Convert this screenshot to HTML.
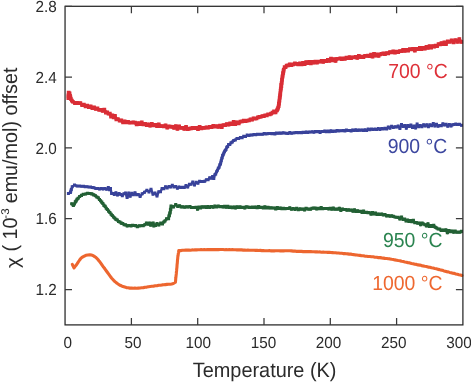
<!DOCTYPE html>
<html><head><meta charset="utf-8"><title>chart</title>
<style>html,body{margin:0;padding:0;background:#fff;width:471px;height:382px;overflow:hidden}svg text{text-rendering:geometricPrecision}</style>
</head><body>
<svg width="471" height="382" viewBox="0 0 471 382" style="position:absolute;left:0;top:0;will-change:transform;font-family:'Liberation Sans',sans-serif">
<g fill="none" stroke-linejoin="round" stroke-linecap="round">
<path d="M68.3 98.1 L68.3 96.4 L68.4 95.1 L68.6 92.5 L69.5 93.3 L70.1 95.8 L70.4 97.5 L70.8 98.9 L71.8 100.5 L72.8 101.7 L74.9 103.0 L76.9 102.9 L78.7 103.1 L80.4 103.0 L82.1 105.3 L83.8 104.6 L85.5 106.4 L87.2 105.6 L88.9 107.1 L90.6 106.3 L92.3 108.3 L94.0 107.4 L95.7 109.0 L97.5 108.5 L99.2 109.9 L100.9 109.8 L102.6 110.9 L104.3 109.6 L105.9 112.6 L107.3 112.4 L108.5 113.8 L109.8 113.6 L111.1 116.5 L112.4 115.4 L113.6 117.3 L114.9 115.9 L116.3 119.5 L117.9 119.1 L119.6 120.6 L121.3 120.4 L123.0 122.3 L124.7 121.4 L126.4 122.4 L128.1 121.7 L129.8 122.7 L131.5 122.5 L133.2 122.3 L134.9 122.6 L136.6 124.5 L138.3 123.2 L140.0 124.2 L141.7 122.5 L143.4 124.4 L145.1 123.9 L146.8 125.0 L148.5 124.2 L150.2 125.8 L151.9 124.0 L153.6 125.3 L155.3 124.7 L157.0 126.2 L158.7 124.4 L160.4 126.0 L162.1 126.0 L163.8 126.5 L165.5 125.4 L167.2 127.7 L168.9 126.4 L170.6 126.7 L172.3 127.0 L174.0 127.9 L175.8 126.2 L177.5 128.9 L179.2 126.4 L180.9 128.0 L182.6 127.7 L184.3 128.9 L186.0 126.9 L187.7 129.1 L189.4 128.6 L191.1 128.4 L192.8 127.7 L194.5 128.2 L196.2 127.8 L197.9 129.1 L199.6 127.0 L201.3 128.5 L203.0 127.7 L204.7 127.9 L206.4 127.3 L208.1 127.8 L209.8 126.7 L211.5 127.3 L213.2 126.0 L214.9 126.6 L216.6 126.2 L218.3 127.0 L220.0 125.7 L221.7 127.1 L223.4 125.0 L225.1 125.1 L226.8 124.0 L228.5 124.7 L230.2 123.4 L231.9 124.0 L233.6 121.9 L235.3 124.3 L237.0 122.2 L238.7 123.4 L240.4 121.5 L242.1 121.3 L243.8 120.7 L245.5 121.2 L247.2 120.5 L248.9 120.4 L250.5 119.3 L252.1 119.7 L253.5 118.2 L255.0 118.6 L256.5 118.5 L258.0 117.5 L259.4 116.9 L260.9 116.8 L262.4 116.0 L263.8 116.0 L265.3 115.4 L266.7 115.4 L268.2 114.5 L269.6 114.3 L271.1 113.7 L272.6 112.7 L274.1 111.5 L275.5 112.5 L277.0 110.3 L277.6 109.3 L278.1 107.7 L278.7 106.0 L278.9 103.7 L279.1 103.6 L279.3 101.3 L279.5 100.5 L279.6 98.2 L279.8 97.2 L280.0 95.5 L280.2 94.4 L280.4 92.8 L280.6 90.8 L280.8 89.3 L281.0 88.2 L281.2 84.9 L281.3 86.1 L281.5 83.5 L281.7 82.9 L281.9 79.8 L282.1 79.6 L282.4 77.1 L282.7 75.9 L283.0 73.4 L283.2 72.7 L283.5 70.8 L283.8 69.7 L284.7 67.2 L285.5 67.2 L286.7 65.6 L288.1 65.3 L289.8 64.3 L291.5 65.0 L293.2 64.4 L294.9 63.5 L296.6 63.9 L298.3 64.4 L299.9 63.4 L301.5 64.4 L303.1 63.0 L304.6 64.0 L306.2 62.1 L307.7 63.0 L309.3 62.0 L310.8 63.3 L312.4 61.8 L313.9 62.8 L315.5 61.6 L317.0 62.6 L318.5 61.5 L320.1 61.8 L321.6 60.8 L323.2 61.9 L324.7 60.8 L326.3 61.1 L327.8 59.9 L329.4 60.9 L330.9 58.6 L332.5 60.3 L334.0 59.1 L335.6 61.0 L337.1 58.8 L338.7 58.7 L340.2 58.3 L341.8 59.2 L343.3 58.4 L344.9 58.8 L346.4 57.5 L348.0 58.2 L349.5 57.0 L351.1 58.2 L352.6 57.2 L354.2 57.4 L355.7 56.9 L357.3 58.0 L358.8 56.0 L360.4 57.2 L361.9 56.6 L363.5 57.1 L365.0 55.8 L366.6 55.9 L368.1 55.7 L369.6 56.1 L371.1 54.6 L372.6 56.7 L374.1 53.8 L375.5 55.7 L377.0 54.3 L378.5 55.9 L380.1 54.3 L381.7 53.8 L383.3 53.4 L385.0 54.1 L386.6 53.0 L388.3 53.3 L389.9 52.0 L391.6 52.5 L393.3 51.4 L394.9 52.6 L396.6 51.7 L398.2 52.1 L399.9 51.1 L401.5 51.1 L403.2 49.8 L404.9 51.0 L406.5 49.8 L408.2 50.7 L409.8 49.2 L411.5 49.4 L413.1 48.8 L414.8 50.7 L416.5 48.9 L418.1 49.2 L419.8 48.0 L421.5 49.0 L423.2 47.8 L424.8 48.7 L426.5 46.8 L428.0 47.9 L429.6 46.1 L431.1 47.5 L432.7 46.0 L434.2 46.6 L435.7 45.6 L437.1 46.3 L438.6 44.1 L440.0 44.4 L441.4 43.0 L442.9 44.2 L444.3 42.3 L446.0 44.2 L447.7 41.5 L449.7 41.8 L451.6 40.4 L453.5 42.3 L455.5 40.1 L457.4 41.8 L459.3 39.1 L461.3 42.0" stroke="#d92d35" stroke-width="3.1"/>
<path d="M66.5 96.2h3.7v3.7h-3.7zM66.5 94.6h3.7v3.7h-3.7zM66.6 93.2h3.7v3.7h-3.7zM66.8 90.7h3.7v3.7h-3.7zM67.7 91.4h3.7v3.7h-3.7zM68.2 94.0h3.7v3.7h-3.7zM68.6 95.6h3.7v3.7h-3.7zM69.0 97.0h3.7v3.7h-3.7zM70.0 98.7h3.7v3.7h-3.7zM71.0 99.9h3.7v3.7h-3.7zM73.1 101.2h3.7v3.7h-3.7zM75.0 101.0h3.7v3.7h-3.7zM76.9 101.3h3.7v3.7h-3.7zM78.5 101.2h3.7v3.7h-3.7zM80.3 103.4h3.7v3.7h-3.7zM82.0 102.7h3.7v3.7h-3.7zM83.7 104.6h3.7v3.7h-3.7zM85.4 103.8h3.7v3.7h-3.7zM87.0 105.2h3.7v3.7h-3.7zM88.8 104.4h3.7v3.7h-3.7zM90.5 106.4h3.7v3.7h-3.7zM92.2 105.5h3.7v3.7h-3.7zM93.9 107.1h3.7v3.7h-3.7zM95.6 106.6h3.7v3.7h-3.7zM97.3 108.0h3.7v3.7h-3.7zM99.0 108.0h3.7v3.7h-3.7zM100.8 109.0h3.7v3.7h-3.7zM102.5 107.8h3.7v3.7h-3.7zM104.0 110.8h3.7v3.7h-3.7zM105.4 110.5h3.7v3.7h-3.7zM106.7 111.9h3.7v3.7h-3.7zM108.0 111.8h3.7v3.7h-3.7zM109.2 114.7h3.7v3.7h-3.7zM110.5 113.6h3.7v3.7h-3.7zM111.8 115.5h3.7v3.7h-3.7zM113.1 114.0h3.7v3.7h-3.7zM114.5 117.6h3.7v3.7h-3.7zM116.0 117.3h3.7v3.7h-3.7zM117.8 118.8h3.7v3.7h-3.7zM119.5 118.6h3.7v3.7h-3.7zM121.2 120.5h3.7v3.7h-3.7zM122.8 119.5h3.7v3.7h-3.7zM124.5 120.6h3.7v3.7h-3.7zM126.2 119.9h3.7v3.7h-3.7zM127.9 120.9h3.7v3.7h-3.7zM129.7 120.7h3.7v3.7h-3.7zM131.4 120.4h3.7v3.7h-3.7zM133.1 120.8h3.7v3.7h-3.7zM134.8 122.6h3.7v3.7h-3.7zM136.4 121.3h3.7v3.7h-3.7zM138.2 122.3h3.7v3.7h-3.7zM139.9 120.6h3.7v3.7h-3.7zM141.6 122.5h3.7v3.7h-3.7zM143.2 122.1h3.7v3.7h-3.7zM144.9 123.2h3.7v3.7h-3.7zM146.7 122.4h3.7v3.7h-3.7zM148.3 123.9h3.7v3.7h-3.7zM150.0 122.1h3.7v3.7h-3.7zM151.8 123.5h3.7v3.7h-3.7zM153.4 122.9h3.7v3.7h-3.7zM155.2 124.3h3.7v3.7h-3.7zM156.9 122.6h3.7v3.7h-3.7zM158.6 124.2h3.7v3.7h-3.7zM160.2 124.2h3.7v3.7h-3.7zM161.9 124.6h3.7v3.7h-3.7zM163.7 123.5h3.7v3.7h-3.7zM165.4 125.8h3.7v3.7h-3.7zM167.1 124.5h3.7v3.7h-3.7zM168.8 124.8h3.7v3.7h-3.7zM170.5 125.1h3.7v3.7h-3.7zM172.2 126.1h3.7v3.7h-3.7zM173.9 124.3h3.7v3.7h-3.7zM175.6 127.0h3.7v3.7h-3.7zM177.3 124.6h3.7v3.7h-3.7zM179.0 126.1h3.7v3.7h-3.7zM180.8 125.9h3.7v3.7h-3.7zM182.4 127.1h3.7v3.7h-3.7zM184.2 125.0h3.7v3.7h-3.7zM185.9 127.2h3.7v3.7h-3.7zM187.6 126.7h3.7v3.7h-3.7zM189.2 126.6h3.7v3.7h-3.7zM190.9 125.9h3.7v3.7h-3.7zM192.7 126.4h3.7v3.7h-3.7zM194.4 125.9h3.7v3.7h-3.7zM196.1 127.2h3.7v3.7h-3.7zM197.8 125.1h3.7v3.7h-3.7zM199.5 126.6h3.7v3.7h-3.7zM201.2 125.9h3.7v3.7h-3.7zM202.9 126.1h3.7v3.7h-3.7zM204.6 125.5h3.7v3.7h-3.7zM206.2 125.9h3.7v3.7h-3.7zM207.9 124.9h3.7v3.7h-3.7zM209.7 125.4h3.7v3.7h-3.7zM211.4 124.1h3.7v3.7h-3.7zM213.1 124.7h3.7v3.7h-3.7zM214.8 124.3h3.7v3.7h-3.7zM216.4 125.1h3.7v3.7h-3.7zM218.2 123.8h3.7v3.7h-3.7zM219.9 125.2h3.7v3.7h-3.7zM221.6 123.2h3.7v3.7h-3.7zM223.2 123.2h3.7v3.7h-3.7zM224.9 122.2h3.7v3.7h-3.7zM226.7 122.8h3.7v3.7h-3.7zM228.3 121.6h3.7v3.7h-3.7zM230.0 122.2h3.7v3.7h-3.7zM231.8 120.1h3.7v3.7h-3.7zM233.4 122.4h3.7v3.7h-3.7zM235.2 120.4h3.7v3.7h-3.7zM236.9 121.6h3.7v3.7h-3.7zM238.6 119.7h3.7v3.7h-3.7zM240.2 119.5h3.7v3.7h-3.7zM241.9 118.8h3.7v3.7h-3.7zM243.7 119.3h3.7v3.7h-3.7zM245.4 118.7h3.7v3.7h-3.7zM247.1 118.5h3.7v3.7h-3.7zM248.7 117.5h3.7v3.7h-3.7zM250.2 117.9h3.7v3.7h-3.7zM251.7 116.4h3.7v3.7h-3.7zM253.2 116.7h3.7v3.7h-3.7zM254.6 116.6h3.7v3.7h-3.7zM256.1 115.6h3.7v3.7h-3.7zM257.6 115.1h3.7v3.7h-3.7zM259.0 114.9h3.7v3.7h-3.7zM260.5 114.2h3.7v3.7h-3.7zM262.0 114.2h3.7v3.7h-3.7zM263.4 113.6h3.7v3.7h-3.7zM264.9 113.5h3.7v3.7h-3.7zM266.3 112.6h3.7v3.7h-3.7zM267.8 112.5h3.7v3.7h-3.7zM269.3 111.8h3.7v3.7h-3.7zM270.7 110.8h3.7v3.7h-3.7zM272.2 109.6h3.7v3.7h-3.7zM273.7 110.6h3.7v3.7h-3.7zM275.1 108.5h3.7v3.7h-3.7zM275.7 107.4h3.7v3.7h-3.7zM276.3 105.8h3.7v3.7h-3.7zM276.8 104.2h3.7v3.7h-3.7zM277.0 101.8h3.7v3.7h-3.7zM277.2 101.8h3.7v3.7h-3.7zM277.4 99.4h3.7v3.7h-3.7zM277.6 98.6h3.7v3.7h-3.7zM277.8 96.3h3.7v3.7h-3.7zM278.0 95.4h3.7v3.7h-3.7zM278.2 93.6h3.7v3.7h-3.7zM278.4 92.5h3.7v3.7h-3.7zM278.5 90.9h3.7v3.7h-3.7zM278.7 88.9h3.7v3.7h-3.7zM278.9 87.5h3.7v3.7h-3.7zM279.1 86.4h3.7v3.7h-3.7zM279.3 83.0h3.7v3.7h-3.7zM279.5 84.2h3.7v3.7h-3.7zM279.7 81.6h3.7v3.7h-3.7zM279.9 81.0h3.7v3.7h-3.7zM280.1 78.0h3.7v3.7h-3.7zM280.2 77.8h3.7v3.7h-3.7zM280.5 75.3h3.7v3.7h-3.7zM280.8 74.0h3.7v3.7h-3.7zM281.1 71.6h3.7v3.7h-3.7zM281.4 70.8h3.7v3.7h-3.7zM281.7 69.0h3.7v3.7h-3.7zM281.9 67.8h3.7v3.7h-3.7zM282.8 65.3h3.7v3.7h-3.7zM283.7 65.3h3.7v3.7h-3.7zM284.8 63.8h3.7v3.7h-3.7zM286.2 63.5h3.7v3.7h-3.7zM287.9 62.4h3.7v3.7h-3.7zM289.6 63.2h3.7v3.7h-3.7zM291.3 62.5h3.7v3.7h-3.7zM293.1 61.6h3.7v3.7h-3.7zM294.7 62.1h3.7v3.7h-3.7zM296.4 62.6h3.7v3.7h-3.7zM298.1 61.5h3.7v3.7h-3.7zM299.7 62.6h3.7v3.7h-3.7zM301.2 61.1h3.7v3.7h-3.7zM302.8 62.2h3.7v3.7h-3.7zM304.3 60.3h3.7v3.7h-3.7zM305.9 61.2h3.7v3.7h-3.7zM307.4 60.1h3.7v3.7h-3.7zM309.0 61.5h3.7v3.7h-3.7zM310.5 59.9h3.7v3.7h-3.7zM312.1 60.9h3.7v3.7h-3.7zM313.6 59.7h3.7v3.7h-3.7zM315.1 60.8h3.7v3.7h-3.7zM316.7 59.7h3.7v3.7h-3.7zM318.2 59.9h3.7v3.7h-3.7zM319.8 59.0h3.7v3.7h-3.7zM321.3 60.0h3.7v3.7h-3.7zM322.9 58.9h3.7v3.7h-3.7zM324.4 59.2h3.7v3.7h-3.7zM326.0 58.0h3.7v3.7h-3.7zM327.5 59.1h3.7v3.7h-3.7zM329.1 56.8h3.7v3.7h-3.7zM330.6 58.5h3.7v3.7h-3.7zM332.2 57.2h3.7v3.7h-3.7zM333.7 59.1h3.7v3.7h-3.7zM335.3 56.9h3.7v3.7h-3.7zM336.8 56.9h3.7v3.7h-3.7zM338.4 56.5h3.7v3.7h-3.7zM339.9 57.4h3.7v3.7h-3.7zM341.5 56.6h3.7v3.7h-3.7zM343.0 57.0h3.7v3.7h-3.7zM344.6 55.7h3.7v3.7h-3.7zM346.1 56.4h3.7v3.7h-3.7zM347.7 55.2h3.7v3.7h-3.7zM349.2 56.4h3.7v3.7h-3.7zM350.8 55.4h3.7v3.7h-3.7zM352.3 55.5h3.7v3.7h-3.7zM353.9 55.1h3.7v3.7h-3.7zM355.4 56.1h3.7v3.7h-3.7zM357.0 54.1h3.7v3.7h-3.7zM358.5 55.3h3.7v3.7h-3.7zM360.1 54.7h3.7v3.7h-3.7zM361.6 55.2h3.7v3.7h-3.7zM363.2 53.9h3.7v3.7h-3.7zM364.7 54.0h3.7v3.7h-3.7zM366.2 53.8h3.7v3.7h-3.7zM367.7 54.2h3.7v3.7h-3.7zM369.2 52.8h3.7v3.7h-3.7zM370.7 54.9h3.7v3.7h-3.7zM372.2 51.9h3.7v3.7h-3.7zM373.7 53.9h3.7v3.7h-3.7zM375.2 52.5h3.7v3.7h-3.7zM376.7 54.1h3.7v3.7h-3.7zM378.2 52.5h3.7v3.7h-3.7zM379.8 52.0h3.7v3.7h-3.7zM381.5 51.5h3.7v3.7h-3.7zM383.1 52.2h3.7v3.7h-3.7zM384.8 51.2h3.7v3.7h-3.7zM386.4 51.5h3.7v3.7h-3.7zM388.1 50.2h3.7v3.7h-3.7zM389.8 50.6h3.7v3.7h-3.7zM391.4 49.6h3.7v3.7h-3.7zM393.1 50.7h3.7v3.7h-3.7zM394.7 49.8h3.7v3.7h-3.7zM396.4 50.2h3.7v3.7h-3.7zM398.0 49.3h3.7v3.7h-3.7zM399.7 49.3h3.7v3.7h-3.7zM401.3 47.9h3.7v3.7h-3.7zM403.0 49.1h3.7v3.7h-3.7zM404.7 47.9h3.7v3.7h-3.7zM406.3 48.8h3.7v3.7h-3.7zM408.0 47.3h3.7v3.7h-3.7zM409.6 47.5h3.7v3.7h-3.7zM411.3 46.9h3.7v3.7h-3.7zM413.0 48.8h3.7v3.7h-3.7zM414.6 47.1h3.7v3.7h-3.7zM416.3 47.3h3.7v3.7h-3.7zM418.0 46.1h3.7v3.7h-3.7zM419.6 47.2h3.7v3.7h-3.7zM421.3 45.9h3.7v3.7h-3.7zM423.0 46.8h3.7v3.7h-3.7zM424.6 44.9h3.7v3.7h-3.7zM426.2 46.0h3.7v3.7h-3.7zM427.7 44.3h3.7v3.7h-3.7zM429.3 45.7h3.7v3.7h-3.7zM430.8 44.2h3.7v3.7h-3.7zM432.3 44.7h3.7v3.7h-3.7zM433.8 43.7h3.7v3.7h-3.7zM435.2 44.4h3.7v3.7h-3.7zM436.7 42.3h3.7v3.7h-3.7zM438.1 42.5h3.7v3.7h-3.7zM439.6 41.2h3.7v3.7h-3.7zM441.1 42.4h3.7v3.7h-3.7zM442.5 40.4h3.7v3.7h-3.7zM444.1 42.3h3.7v3.7h-3.7zM445.9 39.6h3.7v3.7h-3.7zM447.8 40.0h3.7v3.7h-3.7zM449.8 38.6h3.7v3.7h-3.7zM451.7 40.5h3.7v3.7h-3.7zM453.6 38.3h3.7v3.7h-3.7zM455.6 40.0h3.7v3.7h-3.7zM457.5 37.3h3.7v3.7h-3.7zM459.4 40.1h3.7v3.7h-3.7z" fill="#d92d35" stroke="none"/>
<path d="M68.4 193.4 L70.4 192.5 L70.8 191.1 L71.3 189.6 L72.2 186.8 L74.5 185.1 L77.1 186.0 L79.5 186.1 L81.7 186.3 L83.5 186.2 L85.2 186.8 L87.0 186.7 L88.8 187.1 L90.5 187.1 L92.3 187.6 L94.0 187.8 L95.9 188.5 L97.7 188.5 L99.5 189.0 L101.3 188.5 L103.0 189.1 L104.7 188.4 L106.6 189.3 L108.3 187.4 L109.6 189.8 L110.5 188.5 L111.6 193.4 L112.9 193.5 L114.3 194.6 L115.9 192.7 L117.5 195.1 L119.1 193.6 L120.7 194.4 L122.3 195.8 L123.9 193.8 L125.5 193.0 L127.1 197.6 L128.7 193.1 L130.2 196.2 L131.8 193.3 L133.4 194.7 L135.0 192.8 L136.6 194.8 L138.3 194.4 L140.1 196.5 L142.2 193.7 L144.5 192.2 L146.9 190.3 L149.0 191.9 L151.0 189.2 L153.0 194.2 L155.0 192.9 L157.0 196.0 L158.8 191.8 L160.5 191.8 L162.1 188.5 L163.8 188.8 L165.5 186.8 L167.2 187.9 L168.9 186.6 L170.6 187.0 L172.3 185.3 L174.0 186.9 L175.7 186.6 L177.4 188.2 L179.1 187.0 L180.8 187.5 L182.5 187.2 L184.3 187.5 L186.0 185.6 L187.7 187.1 L189.4 184.3 L191.1 184.3 L192.8 182.1 L194.5 185.0 L196.2 182.3 L197.9 183.2 L199.6 181.3 L201.3 181.6 L203.0 181.4 L204.7 181.2 L206.4 179.8 L208.1 179.7 L209.7 177.8 L211.2 178.2 L212.6 176.5 L213.8 178.4 L214.9 174.7 L215.7 174.0 L216.6 171.7 L217.4 170.3 L218.3 168.3 L219.1 167.3 L219.8 164.8 L220.5 163.9 L220.9 161.9 L221.3 160.4 L221.8 158.4 L222.2 157.6 L222.6 155.5 L223.2 154.8 L223.8 153.0 L224.5 151.7 L225.2 150.4 L226.0 149.4 L226.8 147.2 L227.7 146.4 L228.6 144.5 L229.8 144.5 L231.0 142.8 L232.3 141.9 L233.7 140.5 L235.3 139.9 L237.0 138.6 L238.7 138.6 L240.4 137.6 L242.1 137.7 L243.8 136.2 L245.5 136.6 L247.2 135.1 L248.9 135.5 L250.6 135.0 L252.3 135.0 L254.0 134.6 L255.7 134.7 L257.4 134.3 L259.2 134.3 L260.9 134.2 L262.6 134.2 L264.2 133.4 L265.8 133.9 L267.3 133.7 L268.8 133.5 L270.3 133.5 L271.9 133.7 L273.4 133.4 L274.9 133.9 L276.4 133.1 L278.0 133.2 L279.6 133.0 L281.3 133.2 L283.0 132.8 L284.7 133.1 L286.4 133.2 L288.1 133.6 L289.8 132.6 L291.5 133.2 L293.2 132.9 L294.9 132.7 L296.6 132.6 L298.3 132.8 L299.9 132.4 L301.5 132.7 L303.1 132.3 L304.6 132.4 L306.2 131.9 L307.7 132.4 L309.3 132.0 L310.8 132.1 L312.4 131.7 L313.9 132.3 L315.5 131.5 L317.0 131.8 L318.5 131.6 L320.1 132.4 L321.6 131.5 L323.2 131.6 L324.7 131.0 L326.3 131.8 L327.8 131.1 L329.4 131.8 L330.9 130.8 L332.5 131.5 L334.0 131.1 L335.6 131.2 L337.1 130.4 L338.7 130.9 L340.2 130.8 L341.8 130.8 L343.3 130.4 L344.9 130.9 L346.4 130.1 L348.0 130.4 L349.5 130.5 L351.1 130.9 L352.6 130.0 L354.2 130.4 L355.7 129.8 L357.3 130.4 L358.8 130.0 L360.4 130.2 L361.9 129.9 L363.5 130.4 L365.0 129.8 L366.6 130.5 L368.2 129.1 L369.8 129.8 L371.5 129.1 L373.2 129.6 L374.9 129.1 L376.6 129.6 L378.3 128.6 L380.0 129.4 L381.7 128.4 L383.3 128.9 L385.0 128.2 L386.6 128.9 L388.3 127.0 L389.9 128.2 L391.6 126.2 L393.3 127.5 L394.9 126.7 L396.6 127.0 L398.2 126.1 L399.9 128.5 L401.5 124.5 L403.2 126.5 L404.8 125.4 L406.3 128.2 L407.8 125.6 L409.4 126.5 L410.9 125.0 L412.5 127.4 L414.1 126.1 L415.6 128.1 L417.1 124.1 L418.7 126.8 L420.3 125.5 L421.9 126.8 L423.6 124.8 L425.2 126.1 L426.8 124.8 L428.4 126.7 L430.0 124.8 L431.6 125.8 L433.2 123.5 L434.9 126.1 L436.5 124.2 L438.1 126.3 L439.7 125.4 L441.3 125.8 L442.9 123.8 L444.5 125.0 L446.1 124.2 L447.8 126.3 L449.4 124.6 L451.0 126.1 L452.6 124.8 L454.2 124.4 L455.8 124.1 L457.5 124.5 L459.4 124.3 L461.5 125.3" stroke="#38429a" stroke-width="2.4"/>
<path d="M66.9 191.9h3.0v3.0h-3.0zM68.9 191.0h3.0v3.0h-3.0zM69.3 189.6h3.0v3.0h-3.0zM69.8 188.1h3.0v3.0h-3.0zM70.7 185.3h3.0v3.0h-3.0zM73.0 183.6h3.0v3.0h-3.0zM75.6 184.5h3.0v3.0h-3.0zM78.0 184.6h3.0v3.0h-3.0zM80.2 184.8h3.0v3.0h-3.0zM82.0 184.7h3.0v3.0h-3.0zM83.7 185.3h3.0v3.0h-3.0zM85.5 185.2h3.0v3.0h-3.0zM87.3 185.6h3.0v3.0h-3.0zM89.0 185.6h3.0v3.0h-3.0zM90.8 186.1h3.0v3.0h-3.0zM92.5 186.3h3.0v3.0h-3.0zM94.4 187.0h3.0v3.0h-3.0zM96.2 187.0h3.0v3.0h-3.0zM98.0 187.5h3.0v3.0h-3.0zM99.8 187.0h3.0v3.0h-3.0zM101.5 187.6h3.0v3.0h-3.0zM103.2 186.9h3.0v3.0h-3.0zM105.1 187.8h3.0v3.0h-3.0zM106.8 185.9h3.0v3.0h-3.0zM108.1 188.3h3.0v3.0h-3.0zM109.0 187.0h3.0v3.0h-3.0zM110.1 191.9h3.0v3.0h-3.0zM111.4 192.0h3.0v3.0h-3.0zM112.8 193.1h3.0v3.0h-3.0zM114.4 191.2h3.0v3.0h-3.0zM116.0 193.6h3.0v3.0h-3.0zM117.6 192.1h3.0v3.0h-3.0zM119.2 192.9h3.0v3.0h-3.0zM120.8 194.3h3.0v3.0h-3.0zM122.4 192.3h3.0v3.0h-3.0zM124.0 191.5h3.0v3.0h-3.0zM125.6 196.1h3.0v3.0h-3.0zM127.2 191.6h3.0v3.0h-3.0zM128.7 194.7h3.0v3.0h-3.0zM130.3 191.8h3.0v3.0h-3.0zM131.9 193.2h3.0v3.0h-3.0zM133.5 191.3h3.0v3.0h-3.0zM135.1 193.3h3.0v3.0h-3.0zM136.8 192.9h3.0v3.0h-3.0zM138.6 195.0h3.0v3.0h-3.0zM140.7 192.2h3.0v3.0h-3.0zM143.0 190.7h3.0v3.0h-3.0zM145.4 188.8h3.0v3.0h-3.0zM147.5 190.4h3.0v3.0h-3.0zM149.5 187.7h3.0v3.0h-3.0zM151.5 192.7h3.0v3.0h-3.0zM153.5 191.4h3.0v3.0h-3.0zM155.5 194.5h3.0v3.0h-3.0zM157.3 190.3h3.0v3.0h-3.0zM159.0 190.3h3.0v3.0h-3.0zM160.6 187.0h3.0v3.0h-3.0zM162.3 187.3h3.0v3.0h-3.0zM164.0 185.3h3.0v3.0h-3.0zM165.7 186.4h3.0v3.0h-3.0zM167.4 185.1h3.0v3.0h-3.0zM169.1 185.5h3.0v3.0h-3.0zM170.8 183.8h3.0v3.0h-3.0zM172.5 185.4h3.0v3.0h-3.0zM174.2 185.1h3.0v3.0h-3.0zM175.9 186.7h3.0v3.0h-3.0zM177.6 185.5h3.0v3.0h-3.0zM179.3 186.0h3.0v3.0h-3.0zM181.0 185.7h3.0v3.0h-3.0zM182.8 186.0h3.0v3.0h-3.0zM184.5 184.1h3.0v3.0h-3.0zM186.2 185.6h3.0v3.0h-3.0zM187.9 182.8h3.0v3.0h-3.0zM189.6 182.8h3.0v3.0h-3.0zM191.3 180.6h3.0v3.0h-3.0zM193.0 183.5h3.0v3.0h-3.0zM194.7 180.8h3.0v3.0h-3.0zM196.4 181.7h3.0v3.0h-3.0zM198.1 179.8h3.0v3.0h-3.0zM199.8 180.1h3.0v3.0h-3.0zM201.5 179.9h3.0v3.0h-3.0zM203.2 179.7h3.0v3.0h-3.0zM204.9 178.3h3.0v3.0h-3.0zM206.6 178.2h3.0v3.0h-3.0zM208.2 176.3h3.0v3.0h-3.0zM209.7 176.7h3.0v3.0h-3.0zM211.1 175.0h3.0v3.0h-3.0zM212.3 176.9h3.0v3.0h-3.0zM213.4 173.2h3.0v3.0h-3.0zM214.2 172.5h3.0v3.0h-3.0zM215.1 170.2h3.0v3.0h-3.0zM215.9 168.8h3.0v3.0h-3.0zM216.8 166.8h3.0v3.0h-3.0zM217.6 165.8h3.0v3.0h-3.0zM218.3 163.3h3.0v3.0h-3.0zM219.0 162.4h3.0v3.0h-3.0zM219.4 160.4h3.0v3.0h-3.0zM219.8 158.9h3.0v3.0h-3.0zM220.3 156.9h3.0v3.0h-3.0zM220.7 156.1h3.0v3.0h-3.0zM221.1 154.0h3.0v3.0h-3.0zM221.7 153.3h3.0v3.0h-3.0zM222.3 151.5h3.0v3.0h-3.0zM223.0 150.2h3.0v3.0h-3.0zM223.7 148.9h3.0v3.0h-3.0zM224.5 147.9h3.0v3.0h-3.0zM225.3 145.7h3.0v3.0h-3.0zM226.2 144.9h3.0v3.0h-3.0zM227.1 143.0h3.0v3.0h-3.0zM228.3 143.0h3.0v3.0h-3.0zM229.5 141.3h3.0v3.0h-3.0zM230.8 140.4h3.0v3.0h-3.0zM232.2 139.0h3.0v3.0h-3.0zM233.8 138.4h3.0v3.0h-3.0zM235.5 137.1h3.0v3.0h-3.0zM237.2 137.1h3.0v3.0h-3.0zM238.9 136.1h3.0v3.0h-3.0zM240.6 136.2h3.0v3.0h-3.0zM242.3 134.7h3.0v3.0h-3.0zM244.0 135.1h3.0v3.0h-3.0zM245.7 133.6h3.0v3.0h-3.0zM247.4 134.0h3.0v3.0h-3.0zM249.1 133.5h3.0v3.0h-3.0zM250.8 133.5h3.0v3.0h-3.0zM252.5 133.1h3.0v3.0h-3.0zM254.2 133.2h3.0v3.0h-3.0zM255.9 132.8h3.0v3.0h-3.0zM257.7 132.8h3.0v3.0h-3.0zM259.4 132.7h3.0v3.0h-3.0zM261.1 132.7h3.0v3.0h-3.0zM262.7 131.9h3.0v3.0h-3.0zM264.3 132.4h3.0v3.0h-3.0zM265.8 132.2h3.0v3.0h-3.0zM267.3 132.0h3.0v3.0h-3.0zM268.8 132.0h3.0v3.0h-3.0zM270.4 132.2h3.0v3.0h-3.0zM271.9 131.9h3.0v3.0h-3.0zM273.4 132.4h3.0v3.0h-3.0zM274.9 131.6h3.0v3.0h-3.0zM276.5 131.7h3.0v3.0h-3.0zM278.1 131.5h3.0v3.0h-3.0zM279.8 131.7h3.0v3.0h-3.0zM281.5 131.3h3.0v3.0h-3.0zM283.2 131.6h3.0v3.0h-3.0zM284.9 131.7h3.0v3.0h-3.0zM286.6 132.1h3.0v3.0h-3.0zM288.3 131.1h3.0v3.0h-3.0zM290.0 131.7h3.0v3.0h-3.0zM291.7 131.4h3.0v3.0h-3.0zM293.4 131.2h3.0v3.0h-3.0zM295.1 131.1h3.0v3.0h-3.0zM296.8 131.3h3.0v3.0h-3.0zM298.4 130.9h3.0v3.0h-3.0zM300.0 131.2h3.0v3.0h-3.0zM301.6 130.8h3.0v3.0h-3.0zM303.1 130.9h3.0v3.0h-3.0zM304.7 130.4h3.0v3.0h-3.0zM306.2 130.9h3.0v3.0h-3.0zM307.8 130.5h3.0v3.0h-3.0zM309.3 130.6h3.0v3.0h-3.0zM310.9 130.2h3.0v3.0h-3.0zM312.4 130.8h3.0v3.0h-3.0zM314.0 130.0h3.0v3.0h-3.0zM315.5 130.3h3.0v3.0h-3.0zM317.0 130.1h3.0v3.0h-3.0zM318.6 130.9h3.0v3.0h-3.0zM320.1 130.0h3.0v3.0h-3.0zM321.7 130.1h3.0v3.0h-3.0zM323.2 129.5h3.0v3.0h-3.0zM324.8 130.3h3.0v3.0h-3.0zM326.3 129.6h3.0v3.0h-3.0zM327.9 130.3h3.0v3.0h-3.0zM329.4 129.3h3.0v3.0h-3.0zM331.0 130.0h3.0v3.0h-3.0zM332.5 129.6h3.0v3.0h-3.0zM334.1 129.7h3.0v3.0h-3.0zM335.6 128.9h3.0v3.0h-3.0zM337.2 129.4h3.0v3.0h-3.0zM338.7 129.3h3.0v3.0h-3.0zM340.3 129.3h3.0v3.0h-3.0zM341.8 128.9h3.0v3.0h-3.0zM343.4 129.4h3.0v3.0h-3.0zM344.9 128.6h3.0v3.0h-3.0zM346.5 128.9h3.0v3.0h-3.0zM348.0 129.0h3.0v3.0h-3.0zM349.6 129.4h3.0v3.0h-3.0zM351.1 128.5h3.0v3.0h-3.0zM352.7 128.9h3.0v3.0h-3.0zM354.2 128.3h3.0v3.0h-3.0zM355.8 128.9h3.0v3.0h-3.0zM357.3 128.5h3.0v3.0h-3.0zM358.9 128.7h3.0v3.0h-3.0zM360.4 128.4h3.0v3.0h-3.0zM362.0 128.9h3.0v3.0h-3.0zM363.5 128.3h3.0v3.0h-3.0zM365.1 129.0h3.0v3.0h-3.0zM366.7 127.6h3.0v3.0h-3.0zM368.3 128.3h3.0v3.0h-3.0zM370.0 127.6h3.0v3.0h-3.0zM371.7 128.1h3.0v3.0h-3.0zM373.4 127.6h3.0v3.0h-3.0zM375.1 128.1h3.0v3.0h-3.0zM376.8 127.1h3.0v3.0h-3.0zM378.5 127.9h3.0v3.0h-3.0zM380.2 126.9h3.0v3.0h-3.0zM381.8 127.4h3.0v3.0h-3.0zM383.5 126.7h3.0v3.0h-3.0zM385.1 127.4h3.0v3.0h-3.0zM386.8 125.5h3.0v3.0h-3.0zM388.4 126.7h3.0v3.0h-3.0zM390.1 124.7h3.0v3.0h-3.0zM391.8 126.0h3.0v3.0h-3.0zM393.4 125.2h3.0v3.0h-3.0zM395.1 125.5h3.0v3.0h-3.0zM396.7 124.6h3.0v3.0h-3.0zM398.4 127.0h3.0v3.0h-3.0zM400.0 123.0h3.0v3.0h-3.0zM401.7 125.0h3.0v3.0h-3.0zM403.2 123.9h3.0v3.0h-3.0zM404.8 126.7h3.0v3.0h-3.0zM406.3 124.1h3.0v3.0h-3.0zM407.9 125.0h3.0v3.0h-3.0zM409.4 123.5h3.0v3.0h-3.0zM411.0 125.9h3.0v3.0h-3.0zM412.6 124.6h3.0v3.0h-3.0zM414.1 126.6h3.0v3.0h-3.0zM415.6 122.6h3.0v3.0h-3.0zM417.2 125.3h3.0v3.0h-3.0zM418.8 124.0h3.0v3.0h-3.0zM420.4 125.3h3.0v3.0h-3.0zM422.1 123.3h3.0v3.0h-3.0zM423.7 124.6h3.0v3.0h-3.0zM425.3 123.3h3.0v3.0h-3.0zM426.9 125.2h3.0v3.0h-3.0zM428.5 123.3h3.0v3.0h-3.0zM430.1 124.3h3.0v3.0h-3.0zM431.8 122.0h3.0v3.0h-3.0zM433.4 124.6h3.0v3.0h-3.0zM435.0 122.7h3.0v3.0h-3.0zM436.6 124.8h3.0v3.0h-3.0zM438.2 123.9h3.0v3.0h-3.0zM439.8 124.3h3.0v3.0h-3.0zM441.4 122.3h3.0v3.0h-3.0zM443.0 123.5h3.0v3.0h-3.0zM444.6 122.7h3.0v3.0h-3.0zM446.2 124.8h3.0v3.0h-3.0zM447.9 123.1h3.0v3.0h-3.0zM449.5 124.6h3.0v3.0h-3.0zM451.1 123.3h3.0v3.0h-3.0zM452.7 122.9h3.0v3.0h-3.0zM454.3 122.6h3.0v3.0h-3.0zM456.0 123.0h3.0v3.0h-3.0zM457.9 122.8h3.0v3.0h-3.0zM460.0 123.8h3.0v3.0h-3.0z" fill="#38429a" stroke="none"/>
<path d="M71.7 203.8 L73.3 205.6 L74.3 204.0 L75.3 201.9 L76.2 200.9 L77.0 199.3 L78.2 198.3 L79.6 196.5 L81.4 195.4 L83.4 194.2 L85.5 194.0 L87.6 193.2 L89.8 193.6 L91.9 193.9 L93.8 194.8 L95.4 195.7 L96.9 197.0 L98.2 197.8 L99.4 199.5 L100.6 200.8 L101.7 202.2 L102.8 203.5 L104.0 205.3 L105.1 206.4 L106.2 208.2 L107.4 209.6 L108.6 211.1 L109.9 212.4 L111.1 214.2 L112.3 215.5 L113.4 216.9 L114.7 218.0 L116.0 219.3 L117.2 220.0 L118.5 221.6 L119.9 222.0 L121.3 223.2 L122.7 223.6 L124.1 224.8 L125.6 224.8 L127.2 225.9 L129.1 225.4 L131.0 225.8 L132.7 225.4 L134.2 225.5 L135.7 225.6 L137.4 226.6 L139.3 225.8 L141.3 225.8 L143.1 225.6 L144.8 224.8 L146.5 223.0 L148.1 224.2 L149.5 223.1 L150.7 225.1 L151.7 223.8 L152.4 223.2 L153.2 223.0 L153.8 226.0 L154.6 225.1 L155.6 225.4 L157.0 223.7 L158.8 225.0 L160.8 223.2 L162.5 223.8 L163.8 222.0 L165.0 221.0 L166.5 218.8 L168.6 218.8 L169.0 216.0 L169.4 215.4 L169.8 213.4 L170.1 212.5 L170.4 209.7 L170.8 209.3 L171.1 206.1 L173.5 206.9 L175.8 204.6 L177.8 206.4 L179.6 205.8 L181.3 206.9 L183.0 206.8 L184.7 207.2 L186.5 206.7 L188.2 207.1 L189.9 206.5 L191.5 207.5 L193.0 207.4 L194.5 207.6 L196.0 207.2 L197.5 209.1 L199.0 207.2 L200.5 207.8 L202.1 206.7 L203.6 207.1 L205.1 206.8 L206.6 207.3 L208.2 206.7 L209.8 207.4 L211.5 206.6 L213.2 207.3 L214.9 206.1 L216.6 206.8 L218.3 206.1 L219.9 206.8 L221.5 206.4 L223.1 207.1 L224.6 206.3 L226.2 207.3 L227.7 206.3 L229.3 207.5 L230.8 207.1 L232.4 207.6 L233.9 206.9 L235.5 207.9 L237.0 206.8 L238.5 207.6 L240.1 206.9 L241.6 207.4 L243.2 207.4 L244.7 207.9 L246.3 206.9 L247.8 207.1 L249.4 207.3 L250.9 207.5 L252.5 207.2 L254.0 207.3 L255.6 207.0 L257.1 207.6 L258.7 206.5 L260.2 207.3 L261.8 207.3 L263.3 207.8 L264.9 206.9 L266.4 207.8 L268.0 207.3 L269.5 208.0 L271.1 207.7 L272.6 208.0 L274.2 208.0 L275.7 208.8 L277.3 207.6 L278.8 208.4 L280.4 208.0 L281.9 208.8 L283.5 208.4 L285.0 208.6 L286.6 208.6 L288.2 208.5 L289.8 207.9 L291.5 209.2 L293.2 208.4 L294.9 209.4 L296.6 208.3 L298.3 209.7 L299.9 208.9 L301.5 209.3 L303.0 209.0 L304.5 209.8 L306.0 208.3 L307.6 209.0 L309.1 209.1 L310.6 209.1 L312.1 208.3 L313.6 208.1 L315.1 208.0 L316.6 209.0 L318.1 208.2 L319.6 208.7 L321.2 207.4 L322.7 208.7 L324.2 208.5 L325.7 208.6 L327.2 208.5 L328.7 208.9 L330.2 208.2 L331.8 209.1 L333.3 208.0 L334.8 209.2 L336.3 209.0 L337.9 209.2 L339.4 208.2 L340.9 210.3 L342.4 209.1 L343.9 209.5 L345.4 209.6 L346.9 210.3 L348.5 209.7 L350.0 210.2 L351.5 210.1 L353.0 211.3 L354.5 209.9 L356.0 211.4 L357.5 210.8 L359.0 211.5 L360.5 211.3 L362.1 212.3 L363.6 211.2 L365.1 212.5 L366.6 212.3 L368.1 212.7 L369.6 212.8 L371.1 214.1 L372.6 212.6 L374.1 213.9 L375.5 213.1 L377.0 214.5 L378.5 214.0 L380.1 214.5 L381.7 214.0 L383.3 214.9 L385.0 214.5 L386.6 216.0 L388.3 215.6 L389.9 216.3 L391.6 215.8 L393.3 216.4 L394.9 217.0 L396.6 217.3 L398.2 217.3 L399.9 219.0 L401.5 217.2 L403.1 219.5 L404.7 219.2 L406.1 220.9 L407.6 220.0 L409.0 221.5 L410.4 220.4 L411.9 221.7 L413.3 220.3 L414.8 222.6 L416.3 222.6 L417.7 223.2 L419.2 223.0 L420.7 224.8 L422.1 223.1 L423.6 224.0 L425.0 224.7 L426.5 225.9 L427.9 223.7 L429.4 226.5 L430.8 225.7 L432.3 226.5 L433.8 225.3 L435.2 227.3 L436.7 228.0 L438.1 229.0 L439.6 229.0 L441.2 230.5 L442.7 230.1 L444.3 230.4 L445.8 229.9 L447.4 232.8 L448.9 230.5 L450.5 231.7 L452.0 231.0 L453.6 232.3 L455.2 231.2 L456.8 232.3 L458.3 232.2 L459.9 232.2 L461.5 231.3" stroke="#226034" stroke-width="2.6"/>
<path d="M70.2 202.2h3.1v3.1h-3.1zM71.8 204.0h3.1v3.1h-3.1zM72.8 202.4h3.1v3.1h-3.1zM73.8 200.3h3.1v3.1h-3.1zM74.6 199.4h3.1v3.1h-3.1zM75.5 197.7h3.1v3.1h-3.1zM76.6 196.7h3.1v3.1h-3.1zM78.1 195.0h3.1v3.1h-3.1zM79.9 193.8h3.1v3.1h-3.1zM81.8 192.7h3.1v3.1h-3.1zM84.0 192.5h3.1v3.1h-3.1zM86.1 191.7h3.1v3.1h-3.1zM88.2 192.0h3.1v3.1h-3.1zM90.3 192.3h3.1v3.1h-3.1zM92.2 193.3h3.1v3.1h-3.1zM93.9 194.2h3.1v3.1h-3.1zM95.3 195.4h3.1v3.1h-3.1zM96.7 196.2h3.1v3.1h-3.1zM97.9 197.9h3.1v3.1h-3.1zM99.0 199.2h3.1v3.1h-3.1zM100.2 200.6h3.1v3.1h-3.1zM101.3 201.9h3.1v3.1h-3.1zM102.4 203.8h3.1v3.1h-3.1zM103.6 204.8h3.1v3.1h-3.1zM104.7 206.7h3.1v3.1h-3.1zM105.8 208.0h3.1v3.1h-3.1zM107.1 209.6h3.1v3.1h-3.1zM108.3 210.9h3.1v3.1h-3.1zM109.6 212.7h3.1v3.1h-3.1zM110.7 214.0h3.1v3.1h-3.1zM111.9 215.4h3.1v3.1h-3.1zM113.1 216.5h3.1v3.1h-3.1zM114.4 217.8h3.1v3.1h-3.1zM115.7 218.4h3.1v3.1h-3.1zM117.0 220.0h3.1v3.1h-3.1zM118.3 220.4h3.1v3.1h-3.1zM119.8 221.6h3.1v3.1h-3.1zM121.2 222.0h3.1v3.1h-3.1zM122.6 223.2h3.1v3.1h-3.1zM124.0 223.3h3.1v3.1h-3.1zM125.7 224.3h3.1v3.1h-3.1zM127.5 223.9h3.1v3.1h-3.1zM129.4 224.3h3.1v3.1h-3.1zM131.1 223.8h3.1v3.1h-3.1zM132.6 224.0h3.1v3.1h-3.1zM134.1 224.1h3.1v3.1h-3.1zM135.8 225.1h3.1v3.1h-3.1zM137.7 224.3h3.1v3.1h-3.1zM139.7 224.2h3.1v3.1h-3.1zM141.6 224.1h3.1v3.1h-3.1zM143.2 223.2h3.1v3.1h-3.1zM144.9 221.5h3.1v3.1h-3.1zM146.5 222.7h3.1v3.1h-3.1zM147.9 221.5h3.1v3.1h-3.1zM149.1 223.6h3.1v3.1h-3.1zM150.1 222.3h3.1v3.1h-3.1zM150.9 221.7h3.1v3.1h-3.1zM151.6 221.4h3.1v3.1h-3.1zM152.3 224.4h3.1v3.1h-3.1zM153.1 223.5h3.1v3.1h-3.1zM154.0 223.9h3.1v3.1h-3.1zM155.5 222.1h3.1v3.1h-3.1zM157.3 223.4h3.1v3.1h-3.1zM159.2 221.6h3.1v3.1h-3.1zM160.9 222.3h3.1v3.1h-3.1zM162.3 220.4h3.1v3.1h-3.1zM163.4 219.5h3.1v3.1h-3.1zM165.0 217.3h3.1v3.1h-3.1zM167.0 217.2h3.1v3.1h-3.1zM167.4 214.4h3.1v3.1h-3.1zM167.8 213.8h3.1v3.1h-3.1zM168.2 211.8h3.1v3.1h-3.1zM168.6 211.0h3.1v3.1h-3.1zM168.9 208.2h3.1v3.1h-3.1zM169.2 207.8h3.1v3.1h-3.1zM169.5 204.6h3.1v3.1h-3.1zM172.0 205.3h3.1v3.1h-3.1zM174.2 203.0h3.1v3.1h-3.1zM176.2 204.8h3.1v3.1h-3.1zM178.0 204.2h3.1v3.1h-3.1zM179.7 205.3h3.1v3.1h-3.1zM181.4 205.3h3.1v3.1h-3.1zM183.2 205.7h3.1v3.1h-3.1zM184.9 205.2h3.1v3.1h-3.1zM186.7 205.5h3.1v3.1h-3.1zM188.4 205.0h3.1v3.1h-3.1zM189.9 205.9h3.1v3.1h-3.1zM191.4 205.9h3.1v3.1h-3.1zM193.0 206.0h3.1v3.1h-3.1zM194.5 205.7h3.1v3.1h-3.1zM196.0 207.6h3.1v3.1h-3.1zM197.5 205.6h3.1v3.1h-3.1zM199.0 206.3h3.1v3.1h-3.1zM200.5 205.2h3.1v3.1h-3.1zM202.0 205.6h3.1v3.1h-3.1zM203.5 205.3h3.1v3.1h-3.1zM205.0 205.8h3.1v3.1h-3.1zM206.6 205.1h3.1v3.1h-3.1zM208.2 205.9h3.1v3.1h-3.1zM209.9 205.0h3.1v3.1h-3.1zM211.7 205.7h3.1v3.1h-3.1zM213.3 204.5h3.1v3.1h-3.1zM215.0 205.3h3.1v3.1h-3.1zM216.7 204.5h3.1v3.1h-3.1zM218.4 205.2h3.1v3.1h-3.1zM220.0 204.9h3.1v3.1h-3.1zM221.5 205.5h3.1v3.1h-3.1zM223.1 204.8h3.1v3.1h-3.1zM224.6 205.7h3.1v3.1h-3.1zM226.2 204.7h3.1v3.1h-3.1zM227.7 206.0h3.1v3.1h-3.1zM229.3 205.5h3.1v3.1h-3.1zM230.8 206.1h3.1v3.1h-3.1zM232.4 205.4h3.1v3.1h-3.1zM233.9 206.4h3.1v3.1h-3.1zM235.4 205.2h3.1v3.1h-3.1zM237.0 206.0h3.1v3.1h-3.1zM238.5 205.3h3.1v3.1h-3.1zM240.1 205.8h3.1v3.1h-3.1zM241.6 205.8h3.1v3.1h-3.1zM243.2 206.3h3.1v3.1h-3.1zM244.7 205.3h3.1v3.1h-3.1zM246.3 205.5h3.1v3.1h-3.1zM247.8 205.8h3.1v3.1h-3.1zM249.4 206.0h3.1v3.1h-3.1zM250.9 205.6h3.1v3.1h-3.1zM252.5 205.8h3.1v3.1h-3.1zM254.0 205.5h3.1v3.1h-3.1zM255.6 206.1h3.1v3.1h-3.1zM257.1 205.0h3.1v3.1h-3.1zM258.7 205.8h3.1v3.1h-3.1zM260.2 205.7h3.1v3.1h-3.1zM261.8 206.3h3.1v3.1h-3.1zM263.3 205.3h3.1v3.1h-3.1zM264.9 206.3h3.1v3.1h-3.1zM266.4 205.8h3.1v3.1h-3.1zM268.0 206.5h3.1v3.1h-3.1zM269.5 206.2h3.1v3.1h-3.1zM271.1 206.5h3.1v3.1h-3.1zM272.6 206.4h3.1v3.1h-3.1zM274.2 207.3h3.1v3.1h-3.1zM275.7 206.1h3.1v3.1h-3.1zM277.3 206.9h3.1v3.1h-3.1zM278.8 206.4h3.1v3.1h-3.1zM280.4 207.2h3.1v3.1h-3.1zM281.9 206.8h3.1v3.1h-3.1zM283.5 207.1h3.1v3.1h-3.1zM285.0 207.0h3.1v3.1h-3.1zM286.6 206.9h3.1v3.1h-3.1zM288.2 206.3h3.1v3.1h-3.1zM289.9 207.7h3.1v3.1h-3.1zM291.6 206.9h3.1v3.1h-3.1zM293.4 207.8h3.1v3.1h-3.1zM295.1 206.7h3.1v3.1h-3.1zM296.8 208.2h3.1v3.1h-3.1zM298.4 207.3h3.1v3.1h-3.1zM300.0 207.7h3.1v3.1h-3.1zM301.5 207.4h3.1v3.1h-3.1zM303.0 208.3h3.1v3.1h-3.1zM304.5 206.7h3.1v3.1h-3.1zM306.0 207.5h3.1v3.1h-3.1zM307.5 207.6h3.1v3.1h-3.1zM309.0 207.6h3.1v3.1h-3.1zM310.5 206.7h3.1v3.1h-3.1zM312.1 206.6h3.1v3.1h-3.1zM313.6 206.5h3.1v3.1h-3.1zM315.1 207.4h3.1v3.1h-3.1zM316.6 206.7h3.1v3.1h-3.1zM318.1 207.2h3.1v3.1h-3.1zM319.6 205.9h3.1v3.1h-3.1zM321.1 207.1h3.1v3.1h-3.1zM322.6 206.9h3.1v3.1h-3.1zM324.1 207.0h3.1v3.1h-3.1zM325.7 206.9h3.1v3.1h-3.1zM327.2 207.4h3.1v3.1h-3.1zM328.7 206.7h3.1v3.1h-3.1zM330.2 207.6h3.1v3.1h-3.1zM331.7 206.5h3.1v3.1h-3.1zM333.3 207.7h3.1v3.1h-3.1zM334.8 207.4h3.1v3.1h-3.1zM336.3 207.7h3.1v3.1h-3.1zM337.8 206.7h3.1v3.1h-3.1zM339.3 208.8h3.1v3.1h-3.1zM340.9 207.5h3.1v3.1h-3.1zM342.4 208.0h3.1v3.1h-3.1zM343.9 208.0h3.1v3.1h-3.1zM345.4 208.7h3.1v3.1h-3.1zM346.9 208.2h3.1v3.1h-3.1zM348.4 208.6h3.1v3.1h-3.1zM349.9 208.5h3.1v3.1h-3.1zM351.4 209.7h3.1v3.1h-3.1zM352.9 208.3h3.1v3.1h-3.1zM354.5 209.8h3.1v3.1h-3.1zM356.0 209.2h3.1v3.1h-3.1zM357.5 210.0h3.1v3.1h-3.1zM359.0 209.7h3.1v3.1h-3.1zM360.5 210.8h3.1v3.1h-3.1zM362.0 209.6h3.1v3.1h-3.1zM363.5 211.0h3.1v3.1h-3.1zM365.0 210.7h3.1v3.1h-3.1zM366.5 211.1h3.1v3.1h-3.1zM368.0 211.2h3.1v3.1h-3.1zM369.5 212.6h3.1v3.1h-3.1zM371.0 211.0h3.1v3.1h-3.1zM372.5 212.4h3.1v3.1h-3.1zM374.0 211.5h3.1v3.1h-3.1zM375.5 212.9h3.1v3.1h-3.1zM377.0 212.4h3.1v3.1h-3.1zM378.5 213.0h3.1v3.1h-3.1zM380.1 212.4h3.1v3.1h-3.1zM381.8 213.4h3.1v3.1h-3.1zM383.4 213.0h3.1v3.1h-3.1zM385.1 214.4h3.1v3.1h-3.1zM386.7 214.0h3.1v3.1h-3.1zM388.4 214.7h3.1v3.1h-3.1zM390.1 214.2h3.1v3.1h-3.1zM391.7 214.8h3.1v3.1h-3.1zM393.4 215.5h3.1v3.1h-3.1zM395.0 215.7h3.1v3.1h-3.1zM396.7 215.8h3.1v3.1h-3.1zM398.3 217.5h3.1v3.1h-3.1zM400.0 215.6h3.1v3.1h-3.1zM401.6 218.0h3.1v3.1h-3.1zM403.1 217.6h3.1v3.1h-3.1zM404.5 219.3h3.1v3.1h-3.1zM406.0 218.5h3.1v3.1h-3.1zM407.4 219.9h3.1v3.1h-3.1zM408.9 218.9h3.1v3.1h-3.1zM410.4 220.1h3.1v3.1h-3.1zM411.8 218.8h3.1v3.1h-3.1zM413.3 221.1h3.1v3.1h-3.1zM414.7 221.0h3.1v3.1h-3.1zM416.2 221.6h3.1v3.1h-3.1zM417.6 221.5h3.1v3.1h-3.1zM419.1 223.2h3.1v3.1h-3.1zM420.6 221.6h3.1v3.1h-3.1zM422.0 222.4h3.1v3.1h-3.1zM423.5 223.2h3.1v3.1h-3.1zM424.9 224.3h3.1v3.1h-3.1zM426.4 222.2h3.1v3.1h-3.1zM427.9 225.0h3.1v3.1h-3.1zM429.3 224.1h3.1v3.1h-3.1zM430.8 225.0h3.1v3.1h-3.1zM432.2 223.7h3.1v3.1h-3.1zM433.7 225.7h3.1v3.1h-3.1zM435.1 226.4h3.1v3.1h-3.1zM436.6 227.5h3.1v3.1h-3.1zM438.1 227.5h3.1v3.1h-3.1zM439.6 228.9h3.1v3.1h-3.1zM441.2 228.6h3.1v3.1h-3.1zM442.7 228.9h3.1v3.1h-3.1zM444.3 228.3h3.1v3.1h-3.1zM445.8 231.2h3.1v3.1h-3.1zM447.4 229.0h3.1v3.1h-3.1zM448.9 230.1h3.1v3.1h-3.1zM450.5 229.4h3.1v3.1h-3.1zM452.1 230.7h3.1v3.1h-3.1zM453.6 229.6h3.1v3.1h-3.1zM455.2 230.7h3.1v3.1h-3.1zM456.8 230.6h3.1v3.1h-3.1zM458.4 230.7h3.1v3.1h-3.1zM459.9 229.8h3.1v3.1h-3.1z" fill="#226034" stroke="none"/>
<path d="M72.3 264.4 L73.2 266.2 L74.1 267.9 L75.7 265.7 L76.7 264.5 L77.7 262.9 L78.6 261.5 L79.6 260.0 L80.6 258.7 L82.0 257.4 L83.8 256.4 L85.9 255.3 L87.9 255.0 L89.8 254.7 L91.4 255.1 L92.9 255.5 L94.3 256.4 L95.6 257.2 L96.8 258.3 L97.9 259.5 L98.9 260.8 L100.0 262.1 L101.1 263.6 L102.1 265.1 L103.2 266.7 L104.3 268.0 L105.4 269.6 L106.4 271.0 L107.5 272.5 L108.5 273.9 L109.6 275.4 L110.6 276.8 L111.7 278.2 L112.9 279.5 L114.2 281.0 L115.6 282.1 L117.0 283.3 L118.4 284.2 L119.9 285.2 L121.4 285.8 L123.0 286.6 L124.7 287.1 L126.4 287.6 L128.1 287.8 L129.8 288.1 L131.5 288.0 L133.2 288.3 L134.9 288.1 L136.6 288.2 L138.3 288.1 L140.0 288.0 L141.7 287.8 L143.4 287.6 L145.1 287.3 L146.8 287.1 L148.5 286.7 L150.2 286.5 L151.9 286.3 L153.6 286.1 L155.3 285.8 L157.0 285.7 L158.7 285.3 L160.4 285.3 L162.1 284.9 L163.8 284.8 L165.4 284.6 L167.0 284.4 L168.6 284.3 L170.1 284.3 L171.7 283.9 L173.4 283.4 L175.4 282.2 L175.6 280.6 L175.7 278.8 L175.9 277.3 L176.1 275.4 L176.3 273.9 L176.4 272.1 L176.6 270.7 L176.7 269.0 L176.9 267.6 L177.0 266.1 L177.1 264.5 L177.3 263.0 L177.4 261.7 L177.5 259.9 L177.7 258.6 L177.8 257.0 L178.1 255.4 L178.3 253.8 L178.6 252.2 L178.8 250.5 L180.6 250.6 L182.5 250.3 L184.2 250.3 L185.8 250.1 L187.4 250.1 L188.9 250.0 L190.4 250.2 L192.0 249.9 L193.5 250.0 L195.0 249.8 L196.5 249.9 L198.1 249.7 L199.6 249.8 L201.2 249.6 L202.7 249.7 L204.3 249.6 L205.9 249.7 L207.4 249.5 L209.0 249.6 L210.6 249.6 L212.2 249.6 L213.7 249.5 L215.3 249.6 L216.9 249.5 L218.4 249.6 L220.0 249.5 L221.5 249.5 L223.1 249.5 L224.6 249.7 L226.2 249.6 L227.7 249.7 L229.3 249.6 L230.8 249.8 L232.4 249.6 L233.9 249.7 L235.5 249.7 L237.0 249.9 L238.5 249.8 L240.1 249.9 L241.6 249.9 L243.2 250.1 L244.7 250.0 L246.3 250.2 L247.8 250.1 L249.4 250.3 L250.9 250.2 L252.5 250.3 L254.0 250.3 L255.6 250.4 L257.1 250.3 L258.7 250.5 L260.2 250.4 L261.8 250.6 L263.3 250.6 L264.9 250.7 L266.4 250.7 L268.0 250.8 L269.5 250.6 L271.1 250.9 L272.6 250.7 L274.2 250.9 L275.7 250.8 L277.3 250.8 L278.8 250.7 L280.4 250.9 L281.9 250.7 L283.5 250.9 L285.0 250.7 L286.6 250.8 L288.2 250.8 L289.8 250.8 L291.5 250.9 L293.2 251.1 L294.9 251.0 L296.6 251.4 L298.3 251.2 L299.9 251.4 L301.5 251.4 L303.1 251.6 L304.6 251.5 L306.2 251.6 L307.7 251.6 L309.3 251.6 L310.8 251.6 L312.4 251.8 L313.9 251.8 L315.5 251.9 L317.0 251.8 L318.5 252.0 L320.1 251.9 L321.6 252.2 L323.2 252.1 L324.7 252.2 L326.3 252.2 L327.8 252.4 L329.4 252.3 L330.9 252.5 L332.5 252.6 L334.0 252.7 L335.5 252.7 L337.0 253.0 L338.6 253.0 L340.1 253.2 L341.6 253.3 L343.1 253.6 L344.7 253.6 L346.2 253.8 L347.7 253.9 L349.2 254.1 L350.7 254.1 L352.2 254.5 L353.7 254.6 L355.3 254.9 L356.8 255.0 L358.3 255.2 L359.8 255.4 L361.4 255.6 L363.0 255.7 L364.7 256.1 L366.4 256.2 L368.1 256.5 L369.8 256.5 L371.5 256.8 L373.2 256.8 L374.9 257.2 L376.6 257.3 L378.3 257.6 L380.0 257.6 L381.7 257.9 L383.3 258.1 L385.0 258.4 L386.6 258.5 L388.3 258.8 L389.9 258.9 L391.6 259.3 L393.3 259.5 L394.9 259.9 L396.6 260.2 L398.2 260.5 L399.9 260.7 L401.5 261.3 L403.2 261.5 L404.9 261.9 L406.5 262.2 L408.2 262.8 L409.8 262.9 L411.5 263.4 L413.1 263.7 L414.8 264.2 L416.5 264.4 L418.1 264.9 L419.8 265.1 L421.5 265.6 L423.2 265.9 L424.8 266.3 L426.5 266.5 L428.2 267.1 L429.8 267.3 L431.5 267.8 L433.1 268.1 L434.8 268.5 L436.4 268.8 L438.0 269.4 L439.6 269.6 L441.0 270.1 L442.4 270.3 L443.9 270.9 L445.3 271.2 L446.8 271.7 L448.2 271.9 L449.7 272.4 L451.2 272.8 L452.8 273.2 L454.3 273.4 L455.8 274.0 L457.4 274.3 L458.9 274.7 L460.5 275.0 L462.0 275.5" stroke="#ed662f" stroke-width="3.1"/>
</g>
<g stroke="#3a3a3a" stroke-width="1.25" fill="none">
<rect x="65.05" y="6.30" width="397.85" height="318.60" stroke="#262626"/>
<path d="M131.4 324.9 v-7 M131.4 6.3 v7"/>
<path d="M197.7 324.9 v-7 M197.7 6.3 v7"/>
<path d="M264.0 324.9 v-7 M264.0 6.3 v7"/>
<path d="M330.3 324.9 v-7 M330.3 6.3 v7"/>
<path d="M396.6 324.9 v-7 M396.6 6.3 v7"/>
<path d="M65.0 289.5 h7 M462.9 289.5 h-7"/>
<path d="M65.0 218.7 h7 M462.9 218.7 h-7"/>
<path d="M65.0 147.9 h7 M462.9 147.9 h-7"/>
<path d="M65.0 77.1 h7 M462.9 77.1 h-7"/>
<path d="M65.0 6.3 h7 M462.9 6.3 h-7"/>
</g>
<g fill="#2b2b2b" font-size="15.3px">
<text transform="translate(67.80,347.90) scale(1,1.050)" text-anchor="middle">0</text>
<text transform="translate(133.00,347.90) scale(1,1.050)" text-anchor="middle">50</text>
<text transform="translate(198.20,347.90) scale(1,1.050)" text-anchor="middle">100</text>
<text transform="translate(263.40,347.90) scale(1,1.050)" text-anchor="middle">150</text>
<text transform="translate(328.60,347.90) scale(1,1.050)" text-anchor="middle">200</text>
<text transform="translate(393.80,347.90) scale(1,1.050)" text-anchor="middle">250</text>
<text transform="translate(459.00,347.90) scale(1,1.050)" text-anchor="middle">300</text>
<text transform="translate(56.80,295.20) scale(1,1.050)" text-anchor="end">1.2</text>
<text transform="translate(56.80,224.40) scale(1,1.050)" text-anchor="end">1.6</text>
<text transform="translate(56.80,153.60) scale(1,1.050)" text-anchor="end">2.0</text>
<text transform="translate(56.80,82.80) scale(1,1.050)" text-anchor="end">2.4</text>
<text transform="translate(56.80,12.00) scale(1,1.050)" text-anchor="end">2.8</text>
</g>
<text transform="translate(264.6,376.8) scale(1,1.04)" text-anchor="middle" font-size="19.9px" fill="#2b2b2b">Temperature (K)</text>
<g fill="#2b2b2b">
<text transform="translate(17.30,67.60) rotate(-90) scale(1.000,1.040)" text-anchor="end" font-size="19.75px">emu/mol) offset</text>
<text transform="translate(9.40,208.40) rotate(-90) scale(1.000,0.980)" text-anchor="end" font-size="11.50px">-3</text>
<text transform="translate(17.30,217.50) rotate(-90) scale(1.000,1.040)" text-anchor="end" font-size="19.75px">10</text>
<text transform="translate(17.30,251.40) rotate(-90) scale(1.000,1.040)" text-anchor="start" font-size="19.75px">(</text>
<text transform="translate(18.60,268.10) rotate(-90) scale(1.000,0.900)" text-anchor="start" font-size="20.50px">χ</text>
</g>
<g font-size="19.4px" text-anchor="end">
<text transform="translate(447.80,77.70) scale(1,1.050)" text-anchor="end" fill="#de3038">700 °C</text>
<text transform="translate(447.20,152.70) scale(1,1.050)" text-anchor="end" fill="#3c479f">900 °C</text>
<text transform="translate(442.50,247.30) scale(1,1.050)" text-anchor="end" fill="#2b8450">950 °C</text>
<text transform="translate(442.50,290.30) scale(1,1.050)" text-anchor="end" fill="#ee6830">1000 °C</text>
</g>
</svg>
</body></html>
